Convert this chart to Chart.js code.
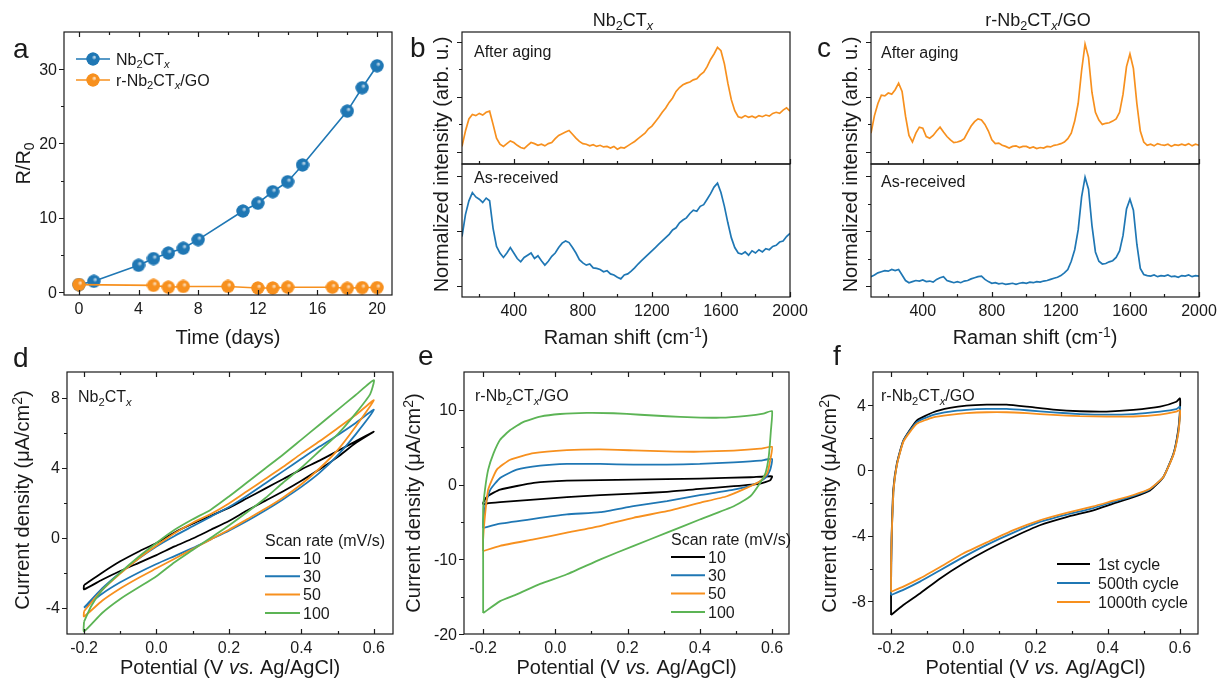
<!DOCTYPE html>
<html>
<head>
<meta charset="utf-8">
<script src="https://cdn.jsdelivr.net/npm/chart.js@4.4.1/dist/chart.umd.min.js"></script>
<style>
  html, body { margin: 0; padding: 0; background: #fff; }
  #wrap { position: relative; width: 1218px; height: 682px; overflow: hidden; }
  #wrap canvas { position: absolute; left: 0; top: 0; }
</style>
</head>
<body>
<div id="wrap"></div>
<script>
// ---------- data ----------

// (a) resistance change vs time
const daysNb = [0, 1, 4, 5, 6, 7, 8, 11, 12, 13, 14, 15, 18, 19, 20];
const ratioNb = [1.0, 1.45, 3.6, 4.5, 5.25, 5.9, 7.05, 10.9, 11.95, 13.5, 14.85, 17.1, 24.35, 27.5, 30.45];
const daysGo = [0, 5, 6, 7, 10, 12, 13, 14, 17, 18, 19, 20];
const ratioGo = [1.0, 0.9, 0.65, 0.75, 0.75, 0.55, 0.55, 0.65, 0.65, 0.5, 0.6, 0.6];

// (b, c) Raman spectra, normalized intensity (arb. u.)
const ramanShift = [
  100, 120, 140, 160, 180, 200, 220, 240, 260, 280,
  300, 320, 340, 360, 380, 400, 420, 440, 460, 480,
  500, 520, 540, 560, 580, 600, 620, 640, 660, 680,
  700, 720, 740, 760, 780, 800, 820, 840, 860, 880,
  900, 920, 940, 960, 980, 1000, 1020, 1040, 1060, 1080,
  1100, 1120, 1140, 1160, 1180, 1200, 1220, 1240, 1260, 1280,
  1300, 1320, 1340, 1360, 1380, 1400, 1420, 1440, 1460, 1480,
  1500, 1520, 1540, 1560, 1580, 1600, 1620, 1640, 1660, 1680,
  1700, 1720, 1740, 1760, 1780, 1800, 1820, 1840, 1860, 1880,
  1900, 1920, 1940, 1960, 1980, 2000
];
const nbAged = [
  0.1, 0.38, 0.6, 0.68, 0.66, 0.7, 0.67, 0.72, 0.74, 0.5,
  0.25, 0.14, 0.1, 0.15, 0.2, 0.17, 0.12, 0.08, 0.06, 0.12,
  0.17, 0.15, 0.12, 0.14, 0.11, 0.15, 0.17, 0.24, 0.3, 0.33,
  0.36, 0.39, 0.32, 0.25, 0.19, 0.15, 0.14, 0.11, 0.13, 0.1,
  0.12, 0.09, 0.1, 0.07, 0.1, 0.05, 0.08, 0.07, 0.11, 0.15,
  0.19, 0.24, 0.29, 0.34, 0.42, 0.47, 0.55, 0.63, 0.72, 0.8,
  0.9, 0.98, 1.1, 1.17, 1.22, 1.25, 1.27, 1.31, 1.33, 1.4,
  1.45, 1.55, 1.68, 1.78, 1.9, 1.84, 1.6, 1.25, 0.95, 0.75,
  0.64, 0.62, 0.66, 0.63, 0.65, 0.62, 0.66, 0.64, 0.67, 0.65,
  0.7, 0.72, 0.7, 0.76, 0.8, 0.74
];
const nbFresh = [
  0.9, 1.3, 1.55, 1.7, 1.62, 1.58, 1.52, 1.6, 1.55, 1.05,
  0.72, 0.6, 0.52, 0.6, 0.7, 0.6, 0.5, 0.44, 0.52, 0.56,
  0.6, 0.5, 0.55, 0.46, 0.38, 0.45, 0.54, 0.6, 0.7, 0.78,
  0.82, 0.79, 0.7, 0.6, 0.48, 0.42, 0.38, 0.4, 0.33, 0.32,
  0.3, 0.26, 0.28, 0.22, 0.2, 0.16, 0.13, 0.2, 0.22, 0.27,
  0.33, 0.4, 0.46, 0.52, 0.58, 0.64, 0.7, 0.76, 0.82, 0.88,
  0.94, 1.02, 1.06, 1.15, 1.2, 1.24, 1.32, 1.38, 1.36, 1.45,
  1.48, 1.58, 1.68, 1.8, 1.87, 1.7, 1.45, 1.15, 0.88, 0.7,
  0.6, 0.58, 0.62, 0.56, 0.64, 0.6, 0.66, 0.62, 0.68, 0.66,
  0.72, 0.74, 0.8, 0.82, 0.9, 0.96
];
const goAged = [
  0.34, 0.66, 0.88, 1.03, 1.02, 1.07, 1.05, 1.13, 1.25, 1.1,
  0.65, 0.3, 0.18, 0.34, 0.45, 0.43, 0.28, 0.25, 0.3, 0.38,
  0.45, 0.36, 0.28, 0.22, 0.17, 0.18, 0.2, 0.24, 0.36, 0.47,
  0.55, 0.6, 0.58, 0.5, 0.38, 0.22, 0.15, 0.16, 0.12, 0.1,
  0.07, 0.1, 0.11, 0.08, 0.1, 0.1, 0.07, 0.09, 0.06, 0.08,
  0.07, 0.1, 0.09, 0.12, 0.13, 0.15, 0.18, 0.24, 0.34, 0.56,
  0.88, 1.48, 1.96, 1.72, 1.08, 0.72, 0.58, 0.5, 0.52, 0.53,
  0.56, 0.6, 0.72, 1.05, 1.55, 1.78, 1.52, 0.88, 0.38, 0.18,
  0.12, 0.14, 0.11, 0.15, 0.13, 0.12, 0.14, 0.1, 0.13, 0.12,
  0.14, 0.12, 0.15, 0.11, 0.14, 0.12
];
const goFresh = [
  0.17, 0.2, 0.24, 0.26, 0.28, 0.27, 0.3, 0.28, 0.3, 0.2,
  0.1, 0.06, 0.08, 0.1, 0.09, 0.11, 0.08, 0.09, 0.07, 0.12,
  0.15, 0.17, 0.1, 0.08, 0.06, 0.08, 0.06, 0.09, 0.1, 0.13,
  0.15, 0.17, 0.18, 0.12, 0.08, 0.05, 0.06, 0.04, 0.05, 0.03,
  0.04, 0.05, 0.03, 0.05, 0.06, 0.05, 0.07, 0.06, 0.08, 0.07,
  0.09, 0.1, 0.12, 0.14, 0.16, 0.19, 0.24, 0.3, 0.45, 0.66,
  1.02, 1.62, 1.98, 1.76, 1.1, 0.62, 0.45, 0.4, 0.41, 0.44,
  0.46, 0.52, 0.64, 0.92, 1.4, 1.58, 1.38, 0.76, 0.32, 0.21,
  0.19, 0.18, 0.2, 0.17, 0.19, 0.18, 0.2, 0.17, 0.18, 0.16,
  0.19, 0.18, 0.2, 0.17, 0.19, 0.18
];

// (d) CV loops of Nb2CTx, [potential V, current uA/cm2]
const cvD10 = [[-0.2,-2.7],[-0.15,-2.0],[-0.1,-1.35],[-0.05,-0.8],[0,-0.3],[0.05,0.3],[0.1,0.8],[0.15,1.25],[0.2,1.7],[0.25,2.25],[0.3,2.8],[0.35,3.35],[0.4,3.9],[0.45,4.4],[0.5,4.95],[0.55,5.5],[0.6,6.05],
  [0.55,5.4],[0.5,4.6],[0.45,3.9],[0.4,3.25],[0.35,2.65],[0.3,2.1],[0.25,1.55],[0.2,0.95],[0.15,0.45],[0.1,-0.05],[0.05,-0.5],[0,-1.0],[-0.05,-1.45],[-0.1,-1.9],[-0.15,-2.4],[-0.2,-2.95],[-0.2,-2.7]];
const cvD30 = [[-0.2,-4.0],[-0.15,-2.9],[-0.1,-2.0],[-0.05,-1.2],[0,-0.5],[0.05,0.1],[0.1,0.65],[0.15,1.2],[0.2,1.75],[0.25,2.4],[0.3,3.1],[0.35,3.8],[0.4,4.5],[0.45,5.2],[0.5,5.85],[0.55,6.55],[0.6,7.3],
  [0.55,5.9],[0.5,4.7],[0.45,3.7],[0.4,2.9],[0.35,2.2],[0.3,1.55],[0.25,0.95],[0.2,0.4],[0.15,-0.1],[0.1,-0.6],[0.05,-1.05],[0,-1.5],[-0.05,-2.0],[-0.1,-2.55],[-0.15,-3.2],[-0.2,-4.0]];
const cvD50 = [[-0.2,-4.2],[-0.15,-3.0],[-0.1,-2.05],[-0.05,-1.2],[0,-0.45],[0.05,0.25],[0.1,0.85],[0.15,1.35],[0.2,1.95],[0.25,2.65],[0.3,3.35],[0.35,4.05],[0.4,4.8],[0.45,5.5],[0.5,6.25],[0.55,7.0],[0.6,7.85],
  [0.55,6.35],[0.5,5.0],[0.45,3.95],[0.4,3.05],[0.35,2.3],[0.3,1.65],[0.25,1.05],[0.2,0.45],[0.15,-0.1],[0.1,-0.65],[0.05,-1.2],[0,-1.75],[-0.05,-2.3],[-0.1,-2.9],[-0.15,-3.6],[-0.2,-4.5],[-0.2,-4.2]];
const cvD100 = [[-0.2,-4.8],[-0.18,-3.9],[-0.15,-3.0],[-0.1,-2.0],[-0.05,-1.1],[0,-0.3],[0.05,0.45],[0.1,1.05],[0.15,1.6],[0.2,2.35],[0.25,3.15],[0.3,3.95],[0.35,4.75],[0.4,5.6],[0.45,6.45],[0.5,7.3],[0.55,8.15],[0.6,9.0],
  [0.59,8.2],[0.55,7.1],[0.5,5.9],[0.45,4.95],[0.4,4.0],[0.35,3.15],[0.3,2.25],[0.25,1.45],[0.2,0.7],[0.15,0.0],[0.1,-0.7],[0.05,-1.4],[0,-2.2],[-0.05,-2.85],[-0.1,-3.5],[-0.15,-4.3],[-0.2,-5.35],[-0.2,-4.8]];

// (e) CV loops of r-Nb2CTx/GO
const cvE10 = [[-0.2,-2.67],[-0.2,-2.44],[-0.188,-1.56],[-0.153,-0.67],[-0.06,0.22],[0.032,0.53],[0.216,0.67],[0.4,0.8],[0.54,0.98],[0.6,1.11],
  [0.595,0.58],[0.567,0.13],[0.494,-0.22],[0.4,-0.58],[0.309,-0.98],[0.216,-1.2],[0.124,-1.42],[0.032,-1.69],[-0.06,-2.0],[-0.153,-2.36],[-0.19,-2.53],[-0.2,-2.67]];
const cvE30 = [[-0.2,-5.8],[-0.2,-4.9],[-0.192,-2.4],[-0.18,-0.67],[-0.153,0.89],[-0.107,2.0],[-0.042,2.53],[0.032,2.76],[0.124,2.76],[0.216,2.67],[0.309,2.67],[0.4,2.76],[0.494,2.98],[0.567,3.2],[0.6,3.42],
  [0.595,2.0],[0.582,0.89],[0.549,0],[0.494,-0.67],[0.4,-1.42],[0.309,-2.22],[0.216,-2.89],[0.124,-3.69],[0.032,-4.0],[-0.06,-4.58],[-0.153,-5.24],[-0.2,-5.8]];
const cvE50 = [[-0.2,-8.9],[-0.2,-7.3],[-0.195,-4.2],[-0.186,-0.67],[-0.162,2.0],[-0.125,3.33],[-0.06,4.2],[0.032,4.6],[0.124,4.7],[0.216,4.58],[0.309,4.44],[0.4,4.4],[0.494,4.55],[0.567,4.8],[0.6,5.05],
  [0.597,3.78],[0.587,1.56],[0.567,0.44],[0.53,-0.44],[0.475,-1.56],[0.4,-2.44],[0.309,-3.56],[0.216,-4.44],[0.124,-5.56],[0.032,-6.44],[-0.06,-7.33],[-0.153,-8.2],[-0.2,-8.9]];
const cvE100 = [[-0.2,-17.2],[-0.2,-10],[-0.2,-3.3],[-0.195,-0.7],[-0.186,2.0],[-0.171,4.2],[-0.153,6.0],[-0.125,7.3],[-0.088,8.4],[-0.042,9.1],[0.013,9.45],[0.087,9.6],[0.161,9.55],[0.235,9.35],[0.309,9.15],[0.383,9.0],[0.457,8.95],[0.53,9.2],[0.576,9.5],[0.6,9.85],
  [0.597,7.3],[0.591,3.8],[0.582,1.56],[0.567,0.22],[0.54,-1.56],[0.494,-2.9],[0.4,-4.67],[0.309,-6.44],[0.217,-8.2],[0.125,-10],[0.032,-12],[-0.042,-13.3],[-0.107,-14.7],[-0.153,-15.6],[-0.2,-17.2]];

// (f) cycling of r-Nb2CTx/GO at one scan rate
const cvF1 = [[-0.2,-8.84],[-0.2,-7.0],[-0.199,-5.0],[-0.198,-3.66],[-0.194,-1.22],[-0.184,0.41],[-0.166,1.83],[-0.129,3.05],[-0.083,3.56],[-0.037,3.82],[0.009,3.96],[0.065,4.02],[0.12,4.02],[0.176,3.9],[0.249,3.72],[0.323,3.62],[0.397,3.6],[0.471,3.7],[0.545,3.9],[0.59,4.2],[0.6,4.41],
  [0.6,3.66],[0.595,2.44],[0.582,1.02],[0.554,-0.41],[0.517,-1.22],[0.471,-1.63],[0.415,-2.03],[0.36,-2.44],[0.286,-2.85],[0.212,-3.35],[0.139,-4.07],[0.065,-4.88],[0.0,-5.69],[-0.064,-6.6],[-0.12,-7.52],[-0.166,-8.23],[-0.2,-8.84]];
const cvF500 = [[-0.2,-7.62],[-0.2,-6.0],[-0.199,-4.5],[-0.197,-3.2],[-0.193,-1.2],[-0.183,0.45],[-0.165,1.85],[-0.129,2.95],[-0.083,3.4],[-0.037,3.6],[0.009,3.7],[0.065,3.76],[0.12,3.76],[0.176,3.68],[0.249,3.55],[0.323,3.45],[0.397,3.41],[0.471,3.45],[0.545,3.6],[0.59,3.75],[0.6,3.9],
  [0.6,3.4],[0.595,2.3],[0.582,1.0],[0.554,-0.4],[0.517,-1.15],[0.471,-1.55],[0.415,-1.92],[0.36,-2.3],[0.286,-2.7],[0.212,-3.15],[0.139,-3.8],[0.065,-4.55],[0.0,-5.3],[-0.064,-6.1],[-0.12,-6.8],[-0.166,-7.3],[-0.2,-7.62]];
const cvF1000 = [[-0.2,-7.42],[-0.2,-6.0],[-0.199,-4.5],[-0.197,-3.2],[-0.193,-1.2],[-0.183,0.42],[-0.165,1.8],[-0.129,2.85],[-0.083,3.25],[-0.037,3.4],[0.009,3.5],[0.065,3.56],[0.12,3.56],[0.176,3.5],[0.249,3.4],[0.323,3.32],[0.397,3.29],[0.471,3.3],[0.545,3.42],[0.59,3.6],[0.6,3.7],
  [0.6,3.3],[0.595,2.2],[0.582,0.95],[0.554,-0.4],[0.517,-1.12],[0.471,-1.5],[0.415,-1.85],[0.36,-2.2],[0.286,-2.6],[0.212,-3.05],[0.139,-3.65],[0.065,-4.4],[0.0,-5.08],[-0.064,-5.9],[-0.12,-6.6],[-0.166,-7.1],[-0.2,-7.42]];

// tick values
const dayTicks = [0, 4, 8, 12, 16, 20], dayMinor = [2, 6, 10, 14, 18];
const ratioTicks = [0, 10, 20, 30], ratioMinor = [5, 15, 25];
const shiftTicks = [400, 800, 1200, 1600, 2000], shiftMinor = [200, 600, 1000, 1400, 1800];
const intTicks = [0, 1, 2], intMinor = [0.5, 1.5];
const potTicks = [-0.2, 0, 0.2, 0.4, 0.6], potMinor = [-0.1, 0.1, 0.3, 0.5];
const curTicksD = [-4, 0, 4, 8], curMinorD = [-2, 2, 6];
const curTicksE = [-20, -10, 0, 10], curMinorE = [-15, -5, 5];
const curTicksF = [-8, -4, 0, 4], curMinorF = [-6, -2, 2];
const scanRates = ['10', '30', '50', '100'];
const cycleNames = ['1st cycle', '500th cycle', '1000th cycle'];

// ---------- drawing helpers ----------
const W = 1218, H = 682;
const FAMILY = '"Liberation Sans", Arial, Helvetica, sans-serif';
const INK = '#1a1a1a';
const BLUE = '#1f77b4', ORANGE = '#f7901e', GREEN = '#5cb455', BLACK = '#000000';

// rich text pieces: [text, mode]; mode '', 'i', 'sub', 'subi', 'sup'
const NB = [['Nb'], ['2', 'sub'], ['CT'], ['x', 'subi']];
const RNB = [['r-Nb'], ['2', 'sub'], ['CT'], ['x', 'subi'], ['/GO']];
const RR0 = [['R/R'], ['0', 'sub']];
const TIME = [['Time (days)']];
const RAMAN = [['Raman shift (cm'], ['-1', 'sup'], [')']];
const INTENS = [['Normalized intensity (arb. u.)']];
const CURR = [['Current density (\u03bcA/cm'], ['2', 'sup'], [')']];
const POT = [['Potential (V '], ['vs.', 'i'], [' Ag/AgCl)']];

function setFont(ctx, size, italic) {
  ctx.font = (italic ? 'italic ' : '') + size + 'px ' + FAMILY;
}
function segStyle(seg, size) {
  const mode = seg[1] || '';
  const small = mode.startsWith('sub') || mode === 'sup';
  return {
    s: small ? size * 0.7 : size,
    it: mode.endsWith('i'),
    dy: mode.startsWith('sub') ? size * 0.22 : (mode === 'sup' ? -size * 0.36 : 0)
  };
}
function drawRich(ctx, segs, x, y, size, align, rot) {
  ctx.save();
  ctx.translate(x, y);
  if (rot) ctx.rotate(rot);
  let w = 0;
  segs.forEach(seg => { const m = segStyle(seg, size); setFont(ctx, m.s, m.it); w += ctx.measureText(seg[0]).width; });
  let cx = align === 'center' ? -w / 2 : (align === 'right' ? -w : 0);
  ctx.textAlign = 'left';
  ctx.textBaseline = 'alphabetic';
  ctx.fillStyle = INK;
  segs.forEach(seg => {
    const m = segStyle(seg, size);
    setFont(ctx, m.s, m.it);
    ctx.fillText(seg[0], cx, m.dy);
    cx += ctx.measureText(seg[0]).width;
  });
  ctx.restore();
}

// shaded ball marker like the original
function sphere(color) {
  const c = document.createElement('canvas');
  c.width = c.height = 14;
  const g = c.getContext('2d');
  const grad = g.createRadialGradient(8.6, 5, 0.3, 7, 7, 7);
  grad.addColorStop(0, 'rgba(255,255,255,0.7)');
  grad.addColorStop(0.3, color);
  grad.addColorStop(1, color);
  g.fillStyle = color;
  g.beginPath(); g.arc(7, 7, 6.5, 0, Math.PI * 2); g.fill();
  g.fillStyle = grad;
  g.beginPath(); g.arc(7, 7, 6.5, 0, Math.PI * 2); g.fill();
  return c;
}
const ballBlue = sphere(BLUE), ballOrange = sphere(ORANGE);

// frame, ticks, tick labels and text for one plot box
function decor(cfg) {
  return {
    id: 'decor',
    afterDatasetsDraw(chart) {
      const ctx = chart.ctx, a = chart.chartArea;
      const xs = chart.scales.x, ys = chart.scales.y;
      ctx.save();
      ctx.strokeStyle = INK;
      ctx.lineWidth = 1.2;
      ctx.strokeRect(a.left, a.top, a.right - a.left, a.bottom - a.top);
      ctx.beginPath();
      [[cfg.yMajor, 5], [cfg.yMinor, 3]].forEach(([list, len]) => list.forEach(v => {
        const py = Math.round(ys.getPixelForValue(v)) + 0.5;
        ctx.moveTo(a.left, py); ctx.lineTo(a.left - len, py);
      }));
      [[cfg.xMajor, 5], [cfg.xMinor, 3]].forEach(([list, len]) => list.forEach(v => {
        const px = Math.round(xs.getPixelForValue(v)) + 0.5;
        ctx.moveTo(px, a.bottom); ctx.lineTo(px, a.bottom - len);
        if (cfg.topTicks) { ctx.moveTo(px, a.top); ctx.lineTo(px, a.top + len); }
      }));
      ctx.stroke();
      ctx.fillStyle = INK;
      setFont(ctx, 16);
      ctx.textBaseline = 'alphabetic';
      if (cfg.xFmt) {
        ctx.textAlign = 'center';
        cfg.xMajor.forEach(v => ctx.fillText(cfg.xFmt(v), xs.getPixelForValue(v), a.bottom + 19));
      }
      if (cfg.yFmt) {
        ctx.textAlign = 'right';
        cfg.yMajor.forEach(v => ctx.fillText(cfg.yFmt(v), a.left - 7, ys.getPixelForValue(v) + 5.5));
      }
      if (cfg.extra) cfg.extra(ctx, chart);
      ctx.restore();
    }
  };
}

function makeChart(box, xr, yr, datasets, cfg) {
  const cv = document.createElement('canvas');
  cv.width = W; cv.height = H;
  document.getElementById('wrap').appendChild(cv);
  return new Chart(cv, {
    type: 'scatter',
    data: { datasets },
    options: {
      responsive: false,
      animation: false,
      devicePixelRatio: 1,
      events: [],
      layout: { padding: { left: box[0], top: box[1], right: W - box[2], bottom: H - box[3] } },
      plugins: { legend: { display: false }, tooltip: { enabled: false } },
      scales: {
        x: { type: 'linear', display: false, min: xr[0], max: xr[1] },
        y: { type: 'linear', display: false, min: yr[0], max: yr[1] }
      }
    },
    plugins: [decor(cfg)]
  });
}

const zip = (xs, ys) => xs.map((x, i) => ({ x, y: ys[i] }));
const pairs = list => list.map(p => ({ x: p[0], y: p[1] }));
function curve(data, color, width, order, tension) {
  return { data, borderColor: color, backgroundColor: color, borderWidth: width,
    pointRadius: 0, showLine: true, fill: false, tension: tension || 0, order };
}
const intFmt = v => String(v);
const potFmt = v => v.toFixed(1);

function lineLegend(ctx, x0, x1, y, color, label, tx) {
  ctx.strokeStyle = color; ctx.lineWidth = 2;
  ctx.beginPath(); ctx.moveTo(x0, y); ctx.lineTo(x1, y); ctx.stroke();
  drawRich(ctx, [[label]], tx, y + 5.7, 16, 'left');
}

// ---------- (a) ----------
makeChart([64, 32, 392, 295], [-1, 21], [-0.4, 35], [
  { data: zip(daysNb, ratioNb), borderColor: BLUE, backgroundColor: BLUE, borderWidth: 1.6,
    showLine: true, pointStyle: ballBlue, pointRadius: 7, order: 2 },
  { data: zip(daysGo, ratioGo), borderColor: ORANGE, backgroundColor: ORANGE, borderWidth: 1.6,
    showLine: true, pointStyle: ballOrange, pointRadius: 7, order: 1 }
], {
  xMajor: dayTicks, xMinor: dayMinor, yMajor: ratioTicks, yMinor: ratioMinor, topTicks: true,
  xFmt: intFmt, yFmt: intFmt,
  extra(ctx) {
    drawRich(ctx, [['a']], 13, 58, 28, 'left');
    drawRich(ctx, RR0, 30, 163.5, 20, 'center', -Math.PI / 2);
    drawRich(ctx, TIME, 228, 344, 20, 'center');
    [[59, BLUE, ballBlue, NB], [80, ORANGE, ballOrange, RNB]].forEach(([y, col, ball, txt]) => {
      ctx.strokeStyle = col; ctx.lineWidth = 1.6;
      ctx.beginPath(); ctx.moveTo(76, y); ctx.lineTo(110, y); ctx.stroke();
      ctx.drawImage(ball, 93 - 7, y - 7);
      drawRich(ctx, txt, 116, y + 5.7, 16, 'left');
    });
  }
});

// ---------- (b) ----------
makeChart([462, 32, 790, 164], [100, 2000], [-0.22, 2.18], [
  curve(zip(ramanShift, nbAged), ORANGE, 1.7, 1)
], {
  xMajor: shiftTicks, xMinor: shiftMinor, yMajor: intTicks, yMinor: intMinor,
  extra(ctx) {
    drawRich(ctx, [['b']], 410, 57, 28, 'left');
    drawRich(ctx, NB, 623, 26, 18, 'center');
    drawRich(ctx, [['After aging']], 474, 57, 16, 'left');
  }
});
makeChart([462, 164, 790, 297], [100, 2000], [-0.2, 2.22], [
  curve(zip(ramanShift, nbFresh), BLUE, 1.7, 1)
], {
  xMajor: shiftTicks, xMinor: shiftMinor, yMajor: intTicks, yMinor: intMinor, xFmt: intFmt,
  extra(ctx) {
    drawRich(ctx, [['As-received']], 474, 183, 16, 'left');
    drawRich(ctx, INTENS, 448, 164.5, 20, 'center', -Math.PI / 2);
    drawRich(ctx, RAMAN, 626, 344, 20, 'center');
  }
});

// ---------- (c) ----------
makeChart([871, 32, 1199, 164], [100, 2000], [-0.22, 2.18], [
  curve(zip(ramanShift, goAged), ORANGE, 1.7, 1)
], {
  xMajor: shiftTicks, xMinor: shiftMinor, yMajor: intTicks, yMinor: intMinor,
  extra(ctx) {
    drawRich(ctx, [['c']], 817, 57, 28, 'left');
    drawRich(ctx, RNB, 1038, 26, 18, 'center');
    drawRich(ctx, [['After aging']], 881, 58, 16, 'left');
  }
});
makeChart([871, 164, 1199, 297], [100, 2000], [-0.2, 2.22], [
  curve(zip(ramanShift, goFresh), BLUE, 1.7, 1)
], {
  xMajor: shiftTicks, xMinor: shiftMinor, yMajor: intTicks, yMinor: intMinor, xFmt: intFmt,
  extra(ctx) {
    drawRich(ctx, [['As-received']], 881, 187, 16, 'left');
    drawRich(ctx, INTENS, 857, 164.5, 20, 'center', -Math.PI / 2);
    drawRich(ctx, RAMAN, 1035, 344, 20, 'center');
  }
});

// ---------- (d) ----------
const rateColors = [BLACK, BLUE, ORANGE, GREEN];
makeChart([67, 372, 393, 634], [-0.247, 0.653], [-5.5, 9.46], [
  curve(pairs(cvD100), GREEN, 1.8, 1, 0.2),
  curve(pairs(cvD50), ORANGE, 1.8, 2, 0.2),
  curve(pairs(cvD30), BLUE, 1.8, 3, 0.2),
  curve(pairs(cvD10), BLACK, 1.8, 4, 0.2)
], {
  xMajor: potTicks, xMinor: potMinor, yMajor: curTicksD, yMinor: curMinorD, topTicks: true,
  xFmt: potFmt, yFmt: intFmt,
  extra(ctx) {
    drawRich(ctx, [['d']], 13, 367, 28, 'left');
    drawRich(ctx, CURR, 29, 500, 20, 'center', -Math.PI / 2);
    drawRich(ctx, POT, 230, 674, 20, 'center');
    drawRich(ctx, NB, 78, 402, 16, 'left');
    drawRich(ctx, [['Scan rate (mV/s)']], 265, 546, 16, 'left');
    scanRates.forEach((r, i) => lineLegend(ctx, 265, 300, 558 + i * 18.3, rateColors[i], r, 303));
  }
});

// ---------- (e) ----------
makeChart([464, 372, 789, 634], [-0.253, 0.647], [-20, 15.07], [
  curve(pairs(cvE100), GREEN, 1.8, 1, 0.15),
  curve(pairs(cvE50), ORANGE, 1.8, 2, 0.15),
  curve(pairs(cvE30), BLUE, 1.8, 3, 0.15),
  curve(pairs(cvE10), BLACK, 1.8, 4, 0.15)
], {
  xMajor: potTicks, xMinor: potMinor, yMajor: curTicksE, yMinor: curMinorE, topTicks: true,
  xFmt: potFmt, yFmt: intFmt,
  extra(ctx) {
    drawRich(ctx, [['e']], 418, 365, 28, 'left');
    drawRich(ctx, CURR, 420, 503, 20, 'center', -Math.PI / 2);
    drawRich(ctx, POT, 626.5, 674, 20, 'center');
    drawRich(ctx, RNB, 475, 401, 16, 'left');
    drawRich(ctx, [['Scan rate (mV/s)']], 671, 545, 16, 'left');
    scanRates.forEach((r, i) => lineLegend(ctx, 671, 705, 557 + i * 18.3, rateColors[i], r, 708));
  }
});

// ---------- (f) ----------
const cycleColors = [BLACK, BLUE, ORANGE];
makeChart([873, 372, 1198, 634], [-0.25, 0.65], [-10, 6.02], [
  curve(pairs(cvF1000), ORANGE, 1.8, 1, 0.15),
  curve(pairs(cvF500), BLUE, 1.8, 2, 0.15),
  curve(pairs(cvF1), BLACK, 1.8, 3, 0.15)
], {
  xMajor: potTicks, xMinor: potMinor, yMajor: curTicksF, yMinor: curMinorF, topTicks: true,
  xFmt: potFmt, yFmt: intFmt,
  extra(ctx) {
    drawRich(ctx, [['f']], 833, 365, 28, 'left');
    drawRich(ctx, CURR, 836, 503, 20, 'center', -Math.PI / 2);
    drawRich(ctx, POT, 1035.5, 674, 20, 'center');
    drawRich(ctx, RNB, 881, 401, 16, 'left');
    cycleNames.forEach((n, i) => lineLegend(ctx, 1057, 1090, 564 + i * 19, cycleColors[i], n, 1098));
  }
});
</script>
</body>
</html>
